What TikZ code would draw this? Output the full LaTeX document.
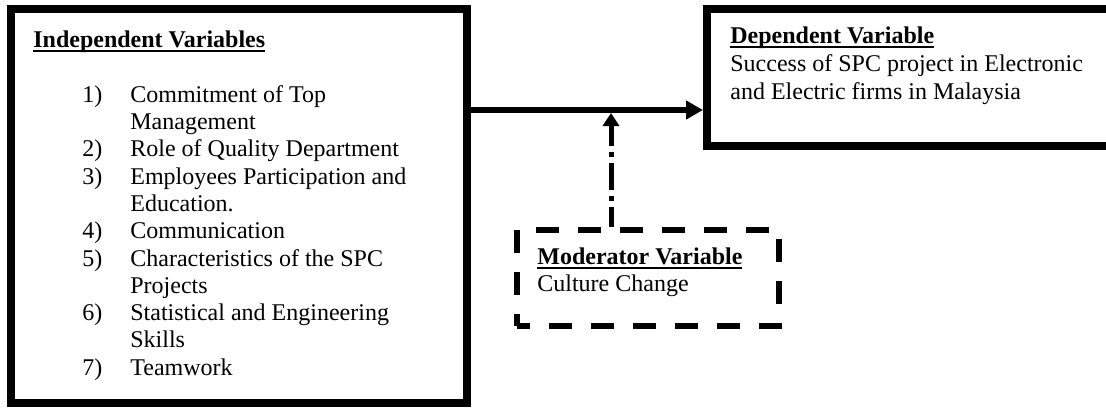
\documentclass[tikz,border=0pt]{standalone}
\usepackage{fontspec}
\setmainfont{Liberation Serif}
\usetikzlibrary{arrows.meta}

% bold heading with a rule under it
\newsavebox{\headbox}
\newcommand{\ulhead}[1]{\sbox{\headbox}{\textbf{#1}}\rlap{\usebox{\headbox}}\rule[-2.6pt]{\wd\headbox}{1.1pt}}

\begin{document}
\begin{tikzpicture}[
	varbox/.style={draw=black, line width=0.16cm, rectangle, inner sep=0pt},
	modbox/.style={draw=black, line width=0.12cm, rectangle, inner sep=0pt, dash pattern=on 0.46cm off 0.38cm, dash phase=0.20cm},
	txt/.style={black, anchor=base west, inner sep=0pt, font=\fontsize{13.66}{15.5}\selectfont},
	link/.style={draw=black, line width=0.12cm, -{Triangle[length=0.34cm, width=0.36cm]}},
	modlink/.style={draw=black, line width=0.10cm, dash pattern=on 0.54cm off 0.12cm on 0.10cm off 0.12cm, dash phase=0.14cm, -{Triangle[length=0.26cm, width=0.32cm]}},
]
	\useasboundingbox (0.00,0.00) rectangle (22.12,8.16);
	\clip (0.00,0.00) rectangle (22.12,8.16);
	% the three boxes
	\node[varbox, minimum width=9.12cm, minimum height=7.88cm] (indep) at (4.78,4.04) {};
	\node[varbox, minimum width=8.36cm, minimum height=2.74cm] (dep) at (18.32,6.61) {};
	\node[modbox, minimum width=5.24cm, minimum height=1.92cm] (moder) at (12.96,2.60) {};
	% independent variables
	\node[txt] (indeptitle) at (0.66,7.22) {\ulhead{Independent Variables}};
	\node[txt] (n1) at (1.64,6.12) {1)};
	\node[txt] (i1) at (2.60,6.12) {Commitment of Top};
	\node[txt] (i1b) at (2.60,5.57) {Management};
	\node[txt] (n2) at (1.64,5.03) {2)};
	\node[txt] (i2) at (2.60,5.03) {Role of Quality Department};
	\node[txt] (n3) at (1.64,4.48) {3)};
	\node[txt] (i3) at (2.60,4.48) {Employees Participation and};
	\node[txt] (i3b) at (2.60,3.94) {Education.};
	\node[txt] (n4) at (1.64,3.39) {4)};
	\node[txt] (i4) at (2.60,3.39) {Communication};
	\node[txt] (n5) at (1.64,2.84) {5)};
	\node[txt] (i5) at (2.60,2.84) {Characteristics of the SPC};
	\node[txt] (i5b) at (2.60,2.30) {Projects};
	\node[txt] (n6) at (1.64,1.75) {6)};
	\node[txt] (i6) at (2.60,1.75) {Statistical and Engineering};
	\node[txt] (i6b) at (2.60,1.21) {Skills};
	\node[txt] (n7) at (1.64,0.66) {7)};
	\node[txt] (i7) at (2.60,0.66) {Teamwork};
	% dependent variable
	\node[txt] (deptitle) at (14.60,7.30) {\ulhead{Dependent Variable}};
	\node[txt] (dep1) at (14.60,6.73) {Success of SPC project in Electronic};
	\node[txt] (dep2) at (14.60,6.18) {and Electric firms in Malaysia};
	% moderator variable
	\node[txt] (modtitle) at (10.74,2.88) {\ulhead{Moderator Variable}};
	\node[txt] (mod1) at (10.74,2.33) {Culture Change};
	% arrows
	\coordinate (meet) at (12.22,5.96);
	\draw[link] (indep.east |- meet) -- (dep.west |- meet);
	\draw[modlink, shorten >=0.06cm] (moder.north -| meet) -- (meet);
\end{tikzpicture}
\end{document}
